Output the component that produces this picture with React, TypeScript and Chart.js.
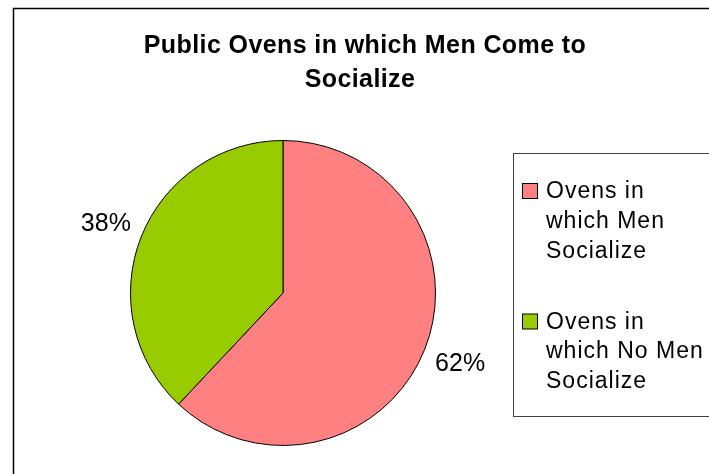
import React, { useEffect, useRef } from "react";
import { Chart, registerables } from "chart.js";

Chart.register(...registerables);

const categories: string[] = ["Ovens in which Men Socialize", "Ovens in which No Men Socialize"];
const legendLines: string[][] = [
  ["Ovens in", "which Men", "Socialize"],
  ["Ovens in", "which No Men", "Socialize"],
];
const values: number[] = [62, 38];
const colors: string[] = ["#FF8080", "#99CC00"];
const titleLines: string[] = ["Public Ovens in which Men Come to", "Socialize"];

const FONT = '"Liberation Sans", Arial, sans-serif';

const decorPlugin = {
  id: "decor",
  beforeDraw(chart: any) {
    const ctx = chart.ctx as CanvasRenderingContext2D;
    ctx.save();
    ctx.fillStyle = "#ffffff";
    ctx.fillRect(0, 0, chart.width, chart.height);
    // outer chart border
    ctx.strokeStyle = "#000000";
    ctx.lineWidth = 1.5;
    ctx.strokeRect(13.5, 8.5, chart.width + 20, chart.height + 20);
    // title
    ctx.fillStyle = "#000000";
    ctx.font = `bold 25px ${FONT}`;
    (ctx as any).letterSpacing = "0.4px";
    ctx.textAlign = "center";
    ctx.textBaseline = "alphabetic";
    ctx.fillText(titleLines[0], 365, 53);
    ctx.fillText(titleLines[1], 360, 87);
    ctx.restore();
  },
  afterDraw(chart: any) {
    const ctx = chart.ctx as CanvasRenderingContext2D;
    const meta = chart.getDatasetMeta(0);
    const total = values.reduce((a, b) => a + b, 0);
    ctx.save();
    // percent labels
    ctx.fillStyle = "#000000";
    ctx.font = `25px ${FONT}`;
    ctx.textAlign = "center";
    ctx.textBaseline = "middle";
    meta.data.forEach((arc: any, i: number) => {
      const p = arc.getProps(["x", "y", "startAngle", "endAngle", "outerRadius"], true);
      const mid = (p.startAngle + p.endAngle) / 2;
      const r = p.outerRadius + 38;
      const pct = Math.round((values[i] / total) * 100);
      ctx.fillText(`${pct}%`, p.x + Math.cos(mid) * r, p.y + Math.sin(mid) * r + 1);
    });
    // legend box
    ctx.strokeStyle = "#404040";
    ctx.lineWidth = 1;
    ctx.strokeRect(513.5, 153.5, chart.width, 263);
    // legend items
    ctx.textAlign = "left";
    ctx.textBaseline = "alphabetic";
    ctx.font = `23px ${FONT}`;
    (ctx as any).letterSpacing = "1px";
    categories.forEach((_, i) => {
      const baseY = 198 + i * 130.5;
      ctx.fillStyle = colors[i];
      ctx.fillRect(522.5, baseY - 14.5, 15, 15);
      ctx.strokeStyle = "#000000";
      ctx.strokeRect(522.5, baseY - 14.5, 15, 15);
      ctx.fillStyle = "#000000";
      legendLines[i].forEach((line, j) => {
        ctx.fillText(line, 546, baseY + j * 29.8);
      });
    });
    ctx.restore();
  },
};

export default function App() {
  const canvasRef = useRef<HTMLCanvasElement | null>(null);
  useEffect(() => {
    const canvas = canvasRef.current;
    if (!canvas) return;
    const chart = new Chart(canvas, {
      type: "pie",
      data: {
        labels: categories,
        datasets: [
          {
            data: values,
            backgroundColor: colors,
            borderColor: "#000000",
            borderWidth: 1,
          },
        ],
      },
      options: {
        responsive: false,
        maintainAspectRatio: false,
        animation: false,
        layout: { padding: { left: 130, right: 273, top: 140, bottom: 28 } },
        plugins: {
          legend: { display: false },
          title: { display: false },
          tooltip: { enabled: false },
        },
      },
      plugins: [decorPlugin],
    });
    return () => chart.destroy();
  }, []);
  return (
    <div style={{ position: "fixed", left: 0, top: 0, width: 709, height: 474, background: "#fff" }}>
      <canvas ref={canvasRef} width={709} height={474} style={{ display: "block" }} />
    </div>
  );
}
